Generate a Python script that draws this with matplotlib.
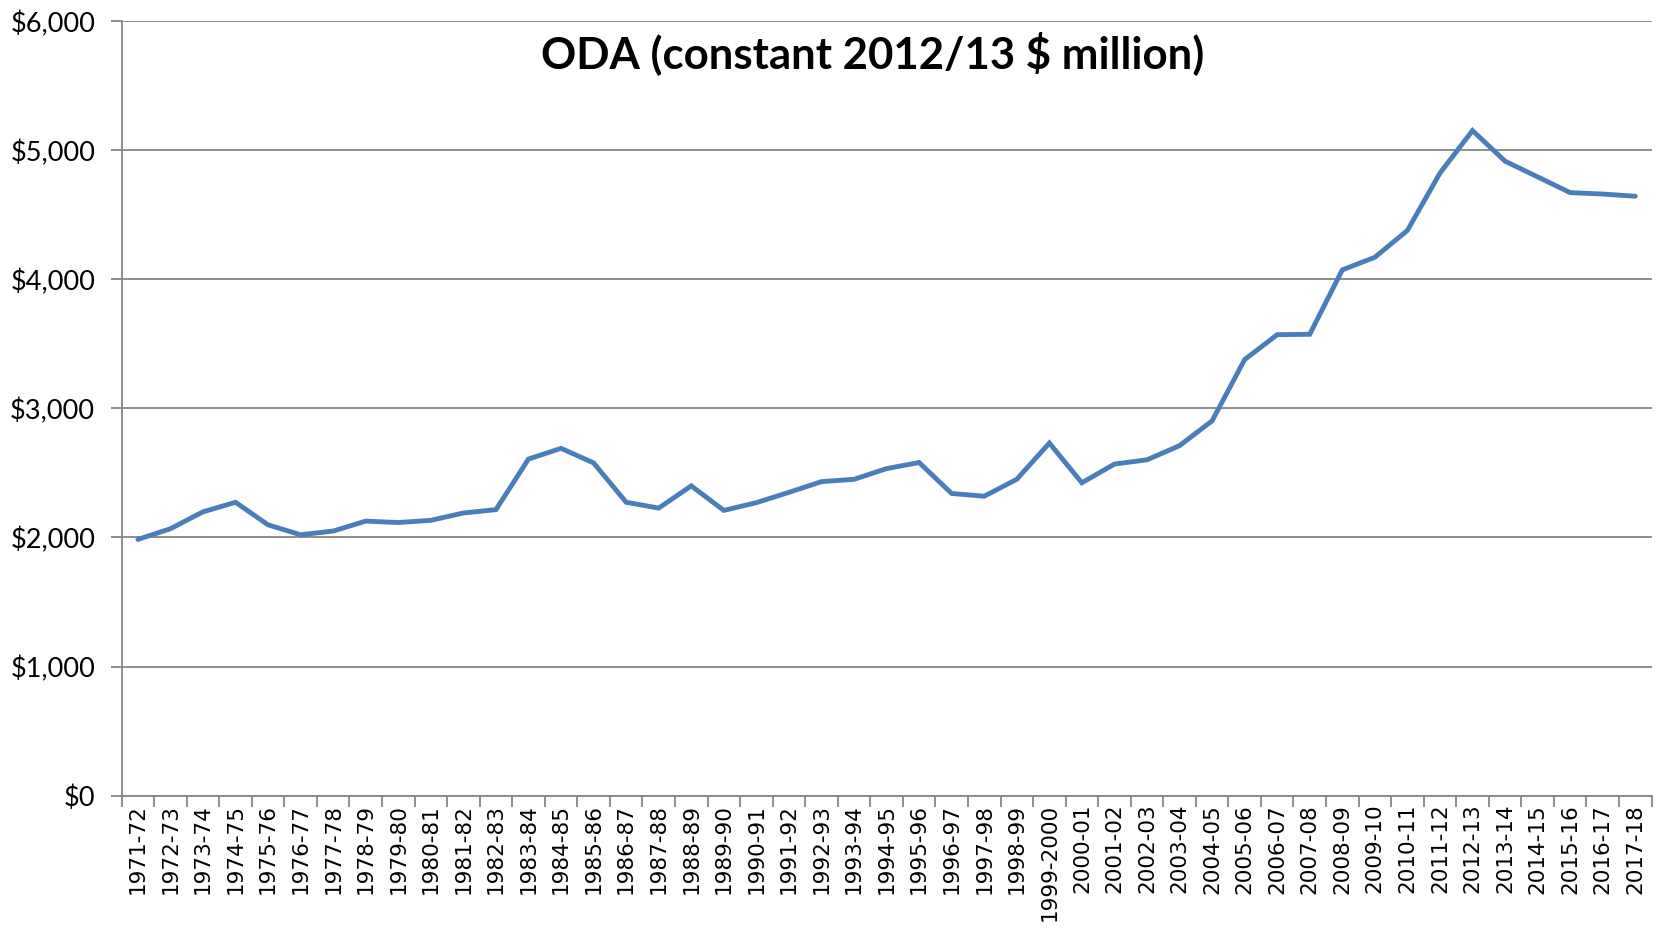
import matplotlib
matplotlib.use("Agg")
import matplotlib.pyplot as plt
import numpy as np
from matplotlib.ticker import FuncFormatter, FixedLocator

categories = [
    "1971-72", "1972-73", "1973-74", "1974-75", "1975-76", "1976-77", "1977-78",
    "1978-79", "1979-80", "1980-81", "1981-82", "1982-83", "1983-84", "1984-85",
    "1985-86", "1986-87", "1987-88", "1988-89", "1989-90", "1990-91", "1991-92",
    "1992-93", "1993-94", "1994-95", "1995-96", "1996-97", "1997-98", "1998-99",
    "1999-2000", "2000-01", "2001-02", "2002-03", "2003-04", "2004-05", "2005-06",
    "2006-07", "2007-08", "2008-09", "2009-10", "2010-11", "2011-12", "2012-13",
    "2013-14", "2014-15", "2015-16", "2016-17", "2017-18",
]
oda = [
    1985, 2068, 2199, 2273, 2098, 2021, 2050, 2127, 2116, 2133, 2190, 2216,
    2608, 2691, 2578, 2273, 2228, 2400, 2210, 2270, 2350, 2433, 2451, 2534,
    2581, 2341, 2320, 2451, 2732, 2424, 2569, 2602, 2712, 2904, 3379, 3572,
    3575, 4074, 4172, 4380, 4824, 5154, 4917, 4795, 4673, 4662, 4645,
]
yticks = [0, 1000, 2000, 3000, 4000, 5000, 6000]
title = "ODA (constant 2012/13 $ million)"

fig = plt.figure(figsize=(16.59, 9.31), dpi=100)
ax = fig.add_axes([0.0733, 0.1455, 0.9955 - 0.0733, 0.977 - 0.1455])

x = np.arange(len(categories))
ax.plot(x, oda, color="#4A7EBB", linewidth=3.5, solid_joinstyle="miter",
        solid_capstyle="round", zorder=3)

ax.set_xlim(-0.5, len(categories) - 0.5)
ax.set_ylim(0, 6000)

grid_c = "#868686"
ax.set_yticks(yticks)
ax.yaxis.set_major_formatter(FuncFormatter(lambda v, p: "${:,.0f}".format(v)))
ax.grid(axis="y", color=grid_c, linewidth=1.3, zorder=1)
ax.set_axisbelow(True)

# category boundaries as major ticks, labels at centers via minor ticks
ax.xaxis.set_major_locator(FixedLocator(np.arange(-0.5, len(categories), 1.0)))
ax.xaxis.set_major_formatter(FuncFormatter(lambda v, p: ""))
ax.xaxis.set_minor_locator(FixedLocator(x))
ax.set_xticklabels(categories, minor=True, rotation=90, fontsize=15.5,
                   family="DejaVu Sans")
ax.tick_params(axis="x", which="major", length=8, width=1.3, color=grid_c)
ax.tick_params(axis="x", which="minor", length=0, pad=6)
ax.tick_params(axis="y", which="major", length=8, width=1.3, color=grid_c,
               labelsize=19.5, pad=11)
for lab in ax.get_yticklabels():
    lab.set_family("Lato")

for s in ["top", "right"]:
    ax.spines[s].set_visible(False)
for s in ["left", "bottom"]:
    ax.spines[s].set_color(grid_c)
    ax.spines[s].set_linewidth(1.3)

fig.text(0.526, 0.943, title, ha="center", va="center", fontsize=31.5,
         fontweight="bold", family="Lato")

fig.savefig("out.png", dpi=100, facecolor="white")
